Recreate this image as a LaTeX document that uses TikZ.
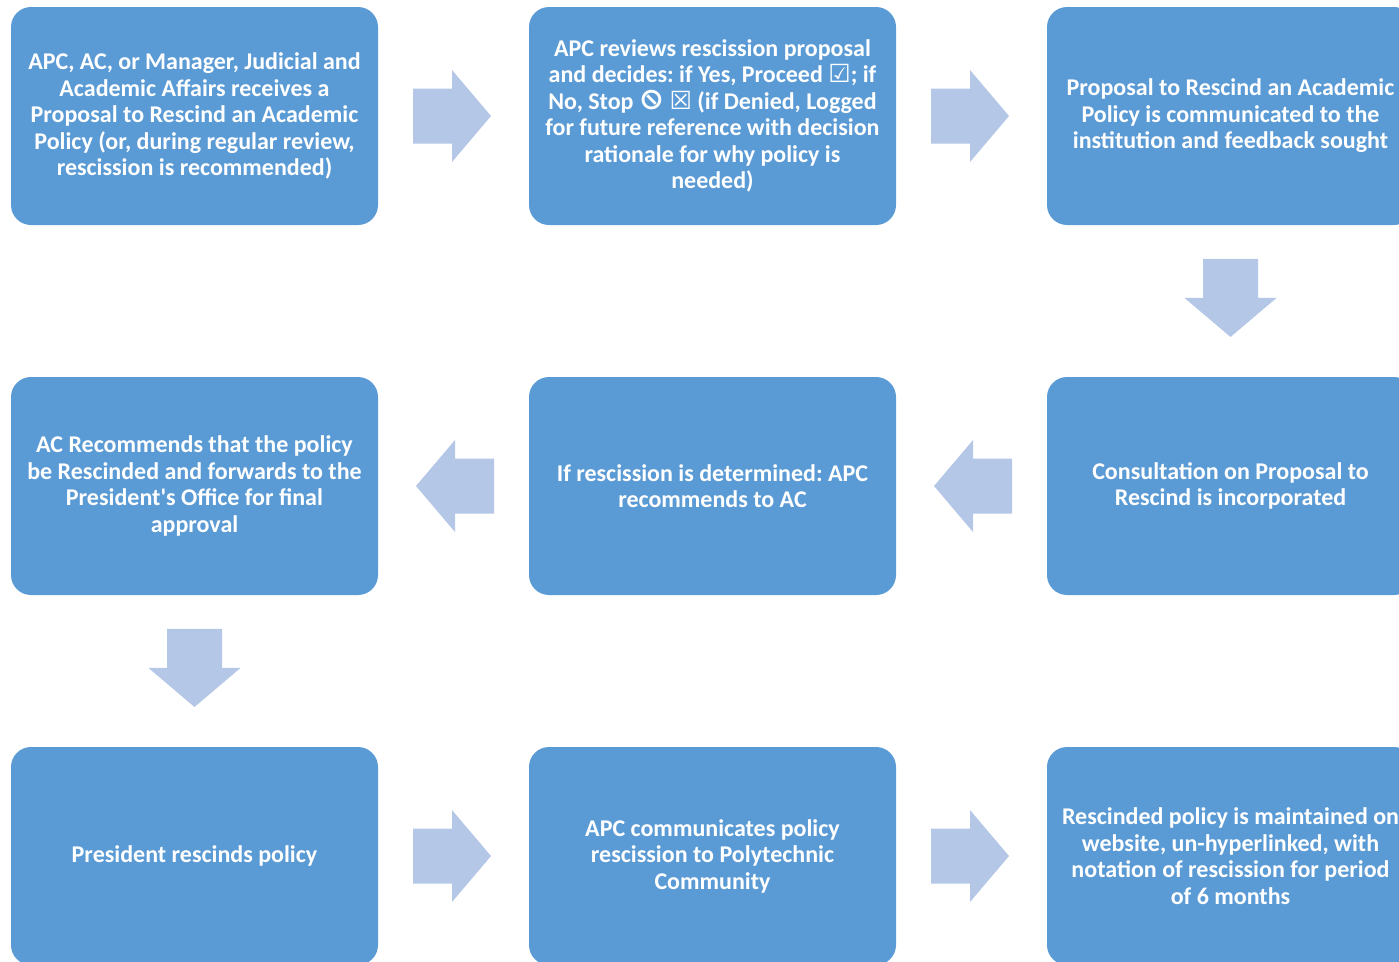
\documentclass[tikz,border=0pt]{standalone}
\usepackage{fontspec}
\usepackage{graphicx}
\setmainfont{Carlito}[Ligatures=TeXOff]
\newfontfamily\symfont{DejaVu Sans}
\definecolor{boxblue}{HTML}{5B9BD5}
\definecolor{arrowblue}{HTML}{B4C7E7}
\newcommand{\symb}[1]{{\symfont\fontsize{25}{26.5}\selectfont #1}}
\tikzset{
  stepbox/.style={fill=boxblue, draw=none, rounded corners=20pt, minimum width=367pt, minimum height=218pt,
    text=white, align=center, font=\frenchspacing\bfseries\fontsize{24}{26.5}\selectfont, inner sep=0pt},
  blockarrow/.pic={\fill[arrowblue] (-39,-27.5) -- (0,-27.5) -- (0,-46) -- (39,0) -- (0,46) -- (0,27.5) -- (-39,27.5) -- cycle;}
}
\begin{document}
\begin{tikzpicture}[x=1pt,y=-1pt]
\useasboundingbox (0,0) rectangle (1399,961);
\clip (0,0) rectangle (1399,961);
\node[stepbox] (n1) at (194.5,116) {APC, AC, or Manager, Judicial and\\Academic Affairs receives a\\Proposal to Rescind an Academic\\Policy (or, during regular review,\\rescission is recommended)};
\node[stepbox] (n2) at (712.5,116) {APC reviews rescission proposal\\and decides: if Yes, Proceed \symb{☑}; if\\No, Stop \symb{\reflectbox{\scalebox{1.2}{⊘}}} \symb{☒} (if Denied, Logged\\for future reference with decision\\rationale for why policy is\\needed)};
\node[stepbox] (n3) at (1230.5,116) {Proposal to Rescind an Academic\\Policy is communicated to the\\institution and feedback sought};
\node[stepbox] (n4) at (1230.5,486) {Consultation on Proposal to\\Rescind is incorporated};
\node[stepbox] (n5) at (712.5,486) {If rescission is determined: APC\\recommends to AC};
\node[stepbox] (n6) at (194.5,486) {AC Recommends that the policy\\be Rescinded and forwards to the\\President's Office for final\\approval};
\node[stepbox] (n7) at (194.5,856) {President rescinds policy};
\node[stepbox] (n8) at (712.5,856) {APC communicates policy\\rescission to Polytechnic\\Community};
\node[stepbox] (n9) at (1230.5,856) {Rescinded policy is maintained on\\website, un-hyperlinked, with\\notation of rescission for period\\of 6 months};
\path (n1.east) -- (n2.west) coordinate[pos=0.49] (m12);
\path (n2.east) -- (n3.west) coordinate[pos=0.49] (m23);
\path (n3.south) -- (n4.north) coordinate[pos=0.48] (m34);
\path (n4.west) -- (n5.east) coordinate[pos=0.49] (m45);
\path (n5.west) -- (n6.east) coordinate[pos=0.49] (m56);
\path (n6.south) -- (n7.north) coordinate[pos=0.48] (m67);
\path (n7.east) -- (n8.west) coordinate[pos=0.49] (m78);
\path (n8.east) -- (n9.west) coordinate[pos=0.49] (m89);
\pic at (m12) {blockarrow};
\pic at (m23) {blockarrow};
\pic[rotate=-90] at (m34) {blockarrow};
\pic[rotate=180] at (m45) {blockarrow};
\pic[rotate=180] at (m56) {blockarrow};
\pic[rotate=-90] at (m67) {blockarrow};
\pic at (m78) {blockarrow};
\pic at (m89) {blockarrow};
\end{tikzpicture}
\end{document}
